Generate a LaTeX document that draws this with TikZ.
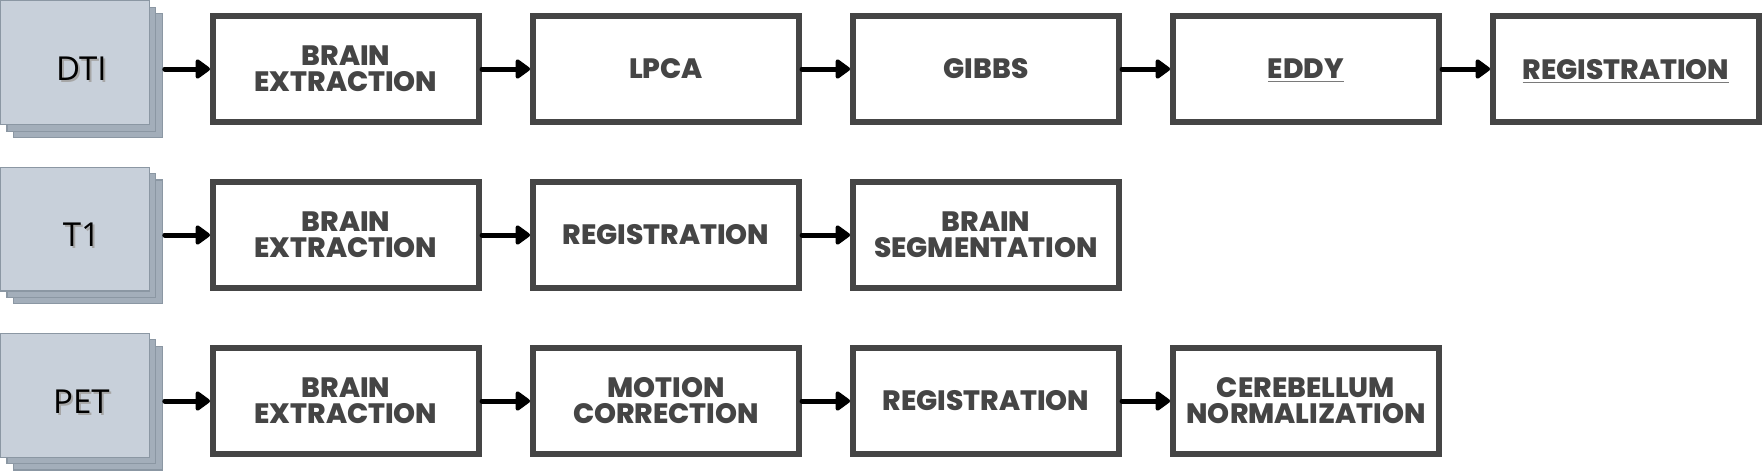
\documentclass[tikz,border=0pt]{standalone}
\usepackage{fontspec}
\setmainfont{Poppins}[BoldFont={Poppins ExtraBold}]
\newfontfamily\srcfont{Open Sans}
\usetikzlibrary{positioning,shadows,arrows.meta}
\definecolor{boxgray}{HTML}{454545}
\definecolor{linegray}{HTML}{7A7A7A}
\definecolor{srcfront}{HTML}{C8D0DA}
\definecolor{srcback}{HTML}{A3AEBA}
\definecolor{srcline}{HTML}{8B97A3}
\newcommand{\srclabel}[1]{\rlap{\hspace{1pt}\raisebox{-1pt}{\textcolor{gray!70}{#1}}}#1}
\newcommand{\ulabel}[1]{\raisebox{0pt}[\height][0pt]{\textcolor{linegray}{\underline{\textcolor{boxgray}{#1}}}}}
\tikzset{%
  source/.style={
    rectangle,
    draw=srcline,
    fill=srcfront,
    line width=0.6pt,
    minimum width=74.4pt,
    minimum height=61.9pt,
    inner sep=0pt,
    copy shadow={shadow xshift=6.4pt,shadow yshift=-6.4pt,fill=srcback},
    copy shadow={shadow xshift=3.2pt,shadow yshift=-3.2pt,fill=srcback}
  },
  src text/.style={
    font=\srcfont\fontsize{16.5}{16}\selectfont,
    text=black
  },
  stage/.style={
    rectangle,
    draw=boxgray,
    line width=3.2pt,
    minimum width=132.8pt,
    minimum height=52.8pt,
    inner sep=0pt,
    align=center,
    text=boxgray,
    font=\bfseries\fontsize{14}{13}\selectfont
  },
}

\begin{document}
\begin{tikzpicture}[node distance=24pt,>=latex]
  \tikzstyle{flow}=[-{Triangle[length=8pt,width=11pt,round]},line width=2.5pt,line cap=round]
  \useasboundingbox (0,0) rectangle (882pt,-235.5pt);

  % sources
  \node[source,label={[src text,xshift=3.2pt,yshift=-3.6pt]center:\srclabel{DTI}}] (dti) at (37.5pt,-31.4pt) {};
  \node[source,below=20.6pt of dti,label={[src text,xshift=3.2pt,yshift=-3.6pt]center:\srclabel{T1}}] (t1) {};
  \node[source,below=20.6pt of t1,label={[src text,xshift=3.2pt,yshift=-3.6pt]center:\srclabel{PET}}] (pet) {};

  % DTI row
  \node[stage] (b11) at (173pt,-34.5pt) {BRAIN\\EXTRACTION};
  \node[stage,right=of b11] (b12) {LPCA};
  \node[stage,right=of b12] (b13) {GIBBS};
  \node[stage,right=of b13] (b14) {\ulabel{EDDY}};
  \node[stage,right=of b14] (b15) {\ulabel{REGISTRATION}};

  % T1 row
  \node[stage,below=27pt of b11] (b21) {BRAIN\\EXTRACTION};
  \node[stage,right=of b21] (b22) {REGISTRATION};
  \node[stage,right=of b22] (b23) {BRAIN\\SEGMENTATION};

  % PET row
  \node[stage,below=27pt of b21] (b31) {BRAIN\\EXTRACTION};
  \node[stage,right=of b31] (b32) {MOTION\\CORRECTION};
  \node[stage,right=of b32] (b33) {REGISTRATION};
  \node[stage,right=of b33] (b34) {CEREBELLUM\\NORMALIZATION};

  \draw[flow,shorten <=7.4pt] (dti.east |- b11.west) -- (b11.west);
  \draw[flow] (b11) -- (b12);
  \draw[flow] (b12) -- (b13);
  \draw[flow] (b13) -- (b14);
  \draw[flow] (b14) -- (b15);

  \draw[flow,shorten <=7.4pt] (t1.east |- b21.west) -- (b21.west);
  \draw[flow] (b21) -- (b22);
  \draw[flow] (b22) -- (b23);

  \draw[flow,shorten <=7.4pt] (pet.east |- b31.west) -- (b31.west);
  \draw[flow] (b31) -- (b32);
  \draw[flow] (b32) -- (b33);
  \draw[flow] (b33) -- (b34);
\end{tikzpicture}
\end{document}
